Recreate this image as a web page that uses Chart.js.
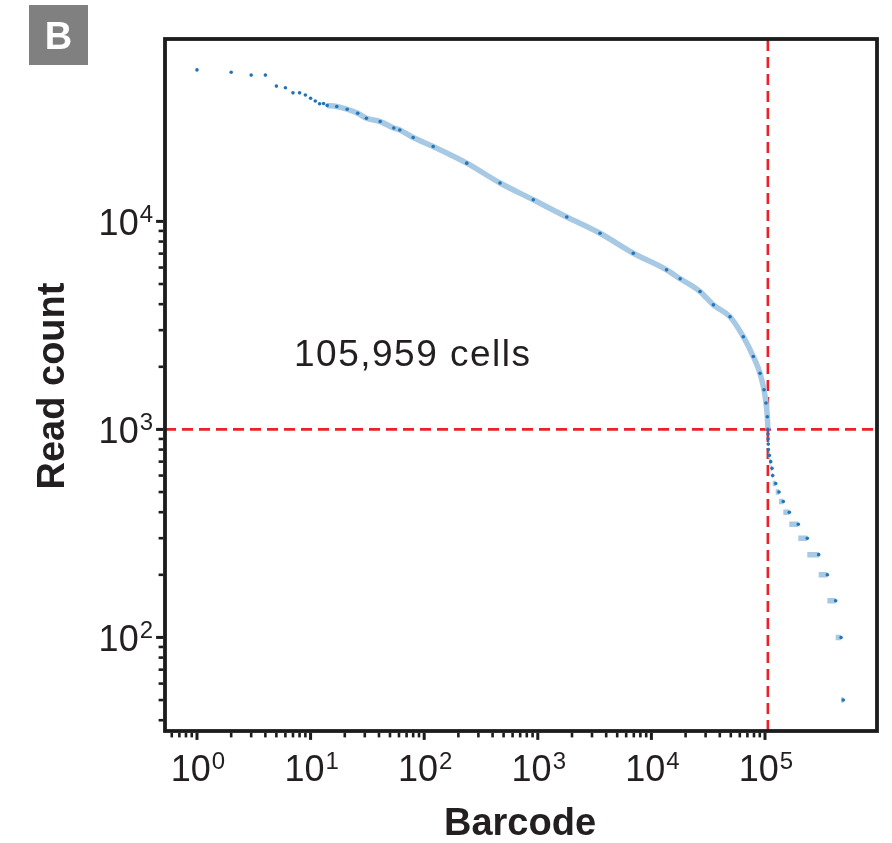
<!DOCTYPE html>
<html><head><meta charset="utf-8">
<script src="https://cdn.jsdelivr.net/npm/chart.js@4/dist/chart.umd.min.js"></script>
<style>html,body{margin:0;padding:0;background:#fff}canvas{display:block}</style>
</head><body>
<canvas id="c" width="892" height="843" style="width:892px;height:843px"></canvas>
<script>
// ---- data ----
const barcodeRank = [1,2,3,4,5,6,7,8,9,10,11,12,13,14,17,21,26,31,41,54,61,80,120,237,465,913,1800,3530,6930,13600,17900,26800,35100,49200,64400,78900,90400,98000,102000,104800,105959];
const readCount   = [53500,52100,50500,50500,44700,43900,41500,41500,40500,39100,37900,36800,36900,36100,35700,34600,33100,31300,30200,28100,27500,25300,22900,19050,15300,12700,10500,8770,7030,5850,5300,4600,3970,3480,2790,2240,1860,1550,1340,1150,1000];
const tailReadCount = [950,900,850,800,750,700,650,600,550,500,450,400,350,300,250,200,150,100,50];
const tailEndRank   = [106300,106600,106800,107000,109100,112300,115200,116900,124300,132900,144900,163700,196400,235700,297000,354000,419000,467000,489000];
const cellCutoffRank = 105959;
const readCutoff = 1000;
const annotationText = '105,959 cells';
const xTickExponents = [0,1,2,3,4,5];
const yTickExponents = [2,3,4];
const xTitle = 'Barcode';
const yTitle = 'Read count';
const panelLabel = 'B';

// axis ranges
const X_MIN = 0.523, X_MAX = 968000, X_TICK_MAX = 100000;
const Y_MIN = 35.5, Y_MAX = 75300, Y_TICK_MAX = 10000;

// ---- build datasets ----
const dotData = barcodeRank.map((r,i)=>({x:r,y:readCount[i]}));
tailEndRank.forEach((r,i)=>dotData.push({x:r,y:tailReadCount[i]}));

const bandData = [];
barcodeRank.forEach((r,i)=>{ if (r>=14) bandData.push({x:r,y:readCount[i]}); });
let prevEnd = barcodeRank[barcodeRank.length-1];
tailReadCount.forEach((c,i)=>{
  bandData.push({x:prevEnd,y:null});
  bandData.push({x:prevEnd,y:c});
  bandData.push({x:tailEndRank[i],y:c});
  prevEnd = tailEndRank[i];
});

const FONT = '"Liberation Sans", Arial, Helvetica, sans-serif';

function tickValues(min,max,limit){
  const out=[];
  for(let e=Math.floor(Math.log10(min)); e<=Math.ceil(Math.log10(max)); e++){
    for(let m=1;m<=9;m++){
      const v=m*Math.pow(10,e);
      if(v>=min && v<=max && v<=limit*1.0001) out.push({v, major:m===1});
    }
  }
  return out;
}

const decor = {
  id:'decor',
  afterDraw(chart){
    const ctx=chart.ctx, a=chart.chartArea, xs=chart.scales.x, ys=chart.scales.y;
    ctx.save();
    // frame
    ctx.strokeStyle='#1c1c1c'; ctx.lineWidth=3.8;
    ctx.strokeRect(a.left, a.top, a.right-a.left, a.bottom-a.top);
    const edge=1.9;
    // ticks
    ctx.fillStyle='#1c1c1c';
    tickValues(X_MIN,X_MAX,X_TICK_MAX).forEach(t=>{
      const px=xs.getPixelForValue(t.v);
      const len=t.major?7:4.5, w=t.major?3:2.6;
      ctx.fillRect(px-w/2, a.bottom+edge, w, len);
    });
    tickValues(Y_MIN,Y_MAX,Y_TICK_MAX).forEach(t=>{
      const py=ys.getPixelForValue(t.v);
      const len=t.major?7:4.5, w=t.major?3:2.6;
      ctx.fillRect(a.left-edge-len, py-w/2, len, w);
    });
    // tick labels
    ctx.fillStyle='#231f20';
    ctx.textBaseline='alphabetic';
    const big='36px '+FONT, small='24px '+FONT;
    xTickExponents.forEach(e=>{
      const px=xs.getPixelForValue(Math.pow(10,e));
      ctx.font=big; const w1=ctx.measureText('10').width;
      ctx.font=small; const w2=ctx.measureText(String(e)).width;
      const x0=px-(w1+w2+1)/2+1;
      ctx.font=big; ctx.textAlign='left'; ctx.fillText('10',x0,781);
      ctx.font=small; ctx.fillText(String(e),x0+w1+1,769);
    });
    yTickExponents.forEach(e=>{
      const py=ys.getPixelForValue(Math.pow(10,e));
      ctx.font=small; const w2=ctx.measureText(String(e)).width;
      ctx.font=big; const w1=ctx.measureText('10').width;
      const xr=153;
      ctx.textAlign='left';
      ctx.font=big; ctx.fillText('10',xr-w2-1-w1,py+13.5);
      ctx.font=small; ctx.fillText(String(e),xr-w2,py+0.5);
    });
    // axis titles
    ctx.fillStyle='#231f20';
    ctx.font='bold 38px '+FONT; ctx.textAlign='center';
    ctx.fillText(xTitle,(a.left+a.right)/2-1,835);
    ctx.save();
    ctx.translate(64,386); ctx.rotate(-Math.PI/2);
    ctx.fillText(yTitle,0,0);
    ctx.restore();
    // annotation
    ctx.font='37px '+FONT; ctx.textAlign='left';
    try { ctx.letterSpacing='1.5px'; } catch(err) {}
    ctx.fillText(annotationText,294,366);
    try { ctx.letterSpacing='0px'; } catch(err) {}
    // panel label
    ctx.fillStyle='#808080'; ctx.fillRect(29,5,59,60);
    ctx.fillStyle='#ffffff'; ctx.font='bold 38px '+FONT; ctx.textAlign='center';
    ctx.fillText(panelLabel,58.5,49);
    ctx.restore();
  }
};

new Chart(document.getElementById('c'),{
  type:'scatter',
  data:{datasets:[
    {label:'cutoff-x', type:'line', data:[{x:cellCutoffRank,y:Y_MIN},{x:cellCutoffRank,y:Y_MAX}],
     borderColor:'#ec2029', borderWidth:2.6, borderDash:[11,6], pointRadius:0, order:3},
    {label:'cutoff-y', type:'line', data:[{x:X_MIN,y:readCutoff},{x:X_MAX,y:readCutoff}],
     borderColor:'#ec2029', borderWidth:2.6, borderDash:[11,6], pointRadius:0, order:3},
    {label:'band', type:'line', data:bandData, borderColor:'#a7c9e4', borderWidth:5.5,
     cubicInterpolationMode:'monotone',
     borderJoinStyle:'round', borderCapStyle:'butt', spanGaps:false, pointRadius:0, order:2},
    {label:'barcodes', data:dotData, backgroundColor:'#2374b5', borderWidth:0, pointRadius:1.8, order:1}
  ]},
  options:{
    responsive:false, animation:false, devicePixelRatio:1,
    layout:{padding:{top:39,right:15,left:0,bottom:0}},
    plugins:{legend:{display:false},tooltip:{enabled:false}},
    scales:{
      x:{type:'logarithmic', min:X_MIN, max:X_MAX, grid:{display:false}, border:{display:false},
         ticks:{display:false}, afterFit(s){s.height=112;}},
      y:{type:'logarithmic', min:Y_MIN, max:Y_MAX, grid:{display:false}, border:{display:false},
         ticks:{display:false}, afterFit(s){s.width=165;}}
    }
  },
  plugins:[decor]
});
</script>
</body></html>
